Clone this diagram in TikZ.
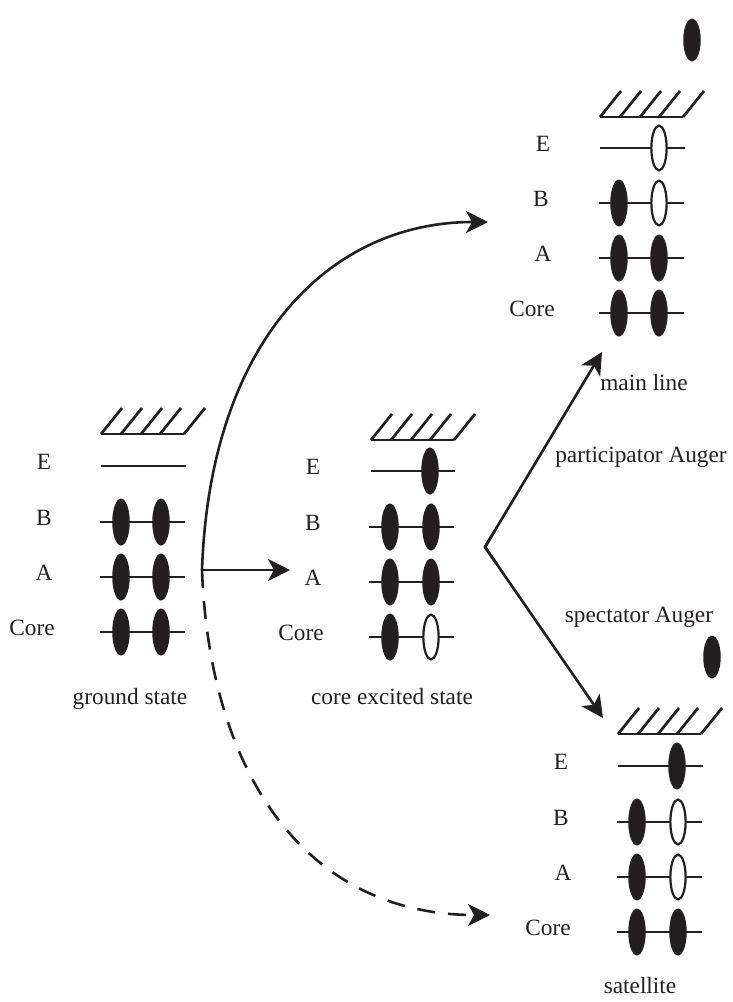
\documentclass[tikz,border=0pt]{standalone}
\usepackage{fontspec}
\setmainfont{Liberation Serif}
\usetikzlibrary{shapes.geometric,arrows.meta,calc}
\definecolor{ink}{HTML}{231F20}

\tikzset{
  lvl/.style={line width=2.7pt, draw=ink},
  hatchline/.style={line width=2.7pt, draw=ink},
  eon/.style={ellipse, fill=ink, minimum width=17.5pt, minimum height=47pt, inner sep=0pt},
  freeeon/.style={ellipse, fill=ink, minimum width=17.5pt, minimum height=43pt, inner sep=0pt},
  hole/.style={ellipse, draw=ink, line width=2.2pt, fill=white, minimum width=15.3pt, minimum height=44.8pt, inner sep=0pt},
  lab/.style={font=\fontsize{23.3}{28}\selectfont, text=ink, anchor=base, inner sep=0pt},
  flow/.style={line width=2.6pt, draw=ink, -{Stealth[length=22pt,width=22pt,inset=6pt]}},
  hatch/.pic={
    \draw[hatchline] (1,0) -- (84,0);
    \foreach \d in {1,21,41,60,84} \draw[hatchline] (\d,0) -- ++(21,-26);
  }
}

\begin{document}
\begin{tikzpicture}[x=1pt,y=-1pt]
\useasboundingbox (0,0) rectangle (732,1002);

% ---------------- ground state ----------------
\pic at (100,434) {hatch};
\draw[lvl] (101,466) -- (186,466);
\foreach \y/\n in {522/B,577/A,632/C}{
  \draw[lvl] (100,\y) -- (185,\y);
  \node[eon] (gs\n1) at (121,\y) {};
  \node[eon] (gs\n2) at (161,\y) {};
}
\node[lab] (gsLE) at (44,469) {E};
\node[lab] (gsLB) at (44,525) {B};
\node[lab] (gsLA) at (44,580) {A};
\node[lab] (gsLC) at (32,635) {Core};
\node[lab] (gsCap) at (130,704) {ground state};

% ---------------- core excited state ----------------
\pic at (370,440) {hatch};
\draw[lvl] (371,471) -- (455,471);
\node[eon] (exE2) at (430,471) {};
\foreach \y/\n in {527/B,582/A}{
  \draw[lvl] (369,\y) -- (454,\y);
  \node[eon] (ex\n1) at (390,\y) {};
  \node[eon] (ex\n2) at (431,\y) {};
}
\draw[lvl] (369,637) -- (454,637);
\node[eon] (exC1) at (390,637) {};
\node[hole] (exC2) at (431,637) {};
\node[lab] (exLE) at (313,474) {E};
\node[lab] (exLB) at (313,530) {B};
\node[lab] (exLA) at (313,585) {A};
\node[lab] (exLC) at (301,640) {Core};
\node[lab] (exCap) at (392,704) {core excited state};

% ---------------- main line (participator) ----------------
\node[freeeon] (mlFree) at (692,40) {};
\pic at (599,117) {hatch};
\draw[lvl] (600,148) -- (685,148);
\node[hole] (mlE2) at (659,148) {};
\draw[lvl] (599,203) -- (684,203);
\node[eon] (mlB1) at (619,203) {};
\node[hole] (mlB2) at (659,203) {};
\foreach \y/\n in {258/A,313/C}{
  \draw[lvl] (599,\y) -- (684,\y);
  \node[eon] (ml\n1) at (619,\y) {};
  \node[eon] (ml\n2) at (659,\y) {};
}
\node[lab] (mlLE) at (543,151) {E};
\node[lab] (mlLB) at (541,206) {B};
\node[lab] (mlLA) at (543,261) {A};
\node[lab] (mlLC) at (532,316) {Core};
\node[lab] (mlCap) at (644,390) {main line};

% ---------------- satellite (spectator) ----------------
\node[freeeon] (stFree) at (712,657) {};
\pic at (617,734) {hatch};
\draw[lvl] (618,766) -- (703,766);
\node[eon] (stE2) at (677,766) {};
\foreach \y/\n in {822/B,877/A}{
  \draw[lvl] (617,\y) -- (702,\y);
  \node[eon] (st\n1) at (637,\y) {};
  \node[hole] (st\n2) at (678,\y) {};
}
\draw[lvl] (617,932) -- (702,932);
\node[eon] (stC1) at (637,932) {};
\node[eon] (stC2) at (678,932) {};
\node[lab] (stLE) at (561,769) {E};
\node[lab] (stLB) at (561,825) {B};
\node[lab] (stLA) at (563,880) {A};
\node[lab] (stLC) at (548,935) {Core};
\node[lab] (stCap) at (640,993) {satellite};

% ---------------- process labels ----------------
\node[lab] (partLab) at (641,462) {participator Auger};
\node[lab] (specLab) at (639,622) {spectator Auger};

% ---------------- transitions ----------------
\coordinate (src) at (202,570);
\coordinate (toExc) at (290,570);
\coordinate (toMain) at (488,222);
\coordinate (toSat) at (490,915);
\coordinate (split) at (485,547);
\coordinate (toPart) at (602,352);
\coordinate (toSpec) at (603,718);

\draw[flow] (src) -- (toExc);
\draw[flow] (src) .. controls (210,340) and (330,222) .. (toMain);
\draw[flow, dash pattern=on 18pt off 13pt] (src) .. controls (210,780) and (310,915) .. (toSat);
\draw[flow] (split) -- (toPart);
\draw[flow] (split) -- (toSpec);
% sharp corner where the two Auger branches meet
\draw[line width=2.6pt, draw=ink, line join=miter] ($(split)!20pt!(toPart)$) -- (split) -- ($(split)!20pt!(toSpec)$);
\end{tikzpicture}
\end{document}
